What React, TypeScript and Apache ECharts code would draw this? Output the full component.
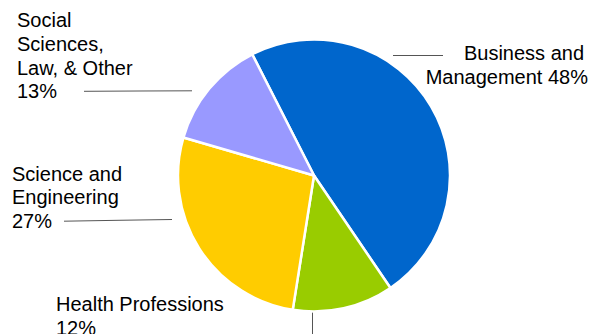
import React, { useEffect, useRef } from "react";
import * as echarts from "echarts";

const categories = [
  "Business and Management",
  "Health Professions",
  "Science and Engineering",
  "Social Sciences, Law, & Other",
];
const shares = [48, 12, 27, 13];
const labelTexts = [
  "Business and\nManagement",
  "Health Professions",
  "Science and\nEngineering",
  "Social\nSciences,\nLaw, & Other",
];
const sliceColors = ["#0066CC", "#99CC00", "#FFCC00", "#9999FF"];

const labelPlacement: any[] = [
  { x: 588, y: 65.3, align: "right", verticalAlign: "middle", labelLinePoints: [[443, 55.5], [418, 55.5], [393, 55.5]] },
  { x: 56, y: 316, align: "left", verticalAlign: "middle", labelLinePoints: [[312.5, 311], [312.5, 325], [312.5, 345]] },
  { x: 12, y: 197.3, align: "left", verticalAlign: "middle", labelLinePoints: [[172, 219.5], [118, 220.3], [64, 221.2]] },
  { x: 17, y: 55.9, align: "left", verticalAlign: "middle", labelLinePoints: [[192, 90.8], [138, 91], [84, 91.3]] },
];

export default function App() {
  const ref = useRef<HTMLDivElement>(null);
  useEffect(() => {
    if (!ref.current) return;
    const chart = echarts.init(ref.current, undefined, { renderer: "svg" });
    chart.setOption({
      animation: false,
      backgroundColor: "#ffffff",
      series: [
        {
          type: "pie",
          center: [314, 175.5],
          radius: 136,
          startAngle: 117,
          clockwise: true,
          avoidLabelOverlap: false,
          itemStyle: { borderColor: "#ffffff", borderWidth: 2.5 },
          label: {
            show: true,
            position: "outside",
            color: "#000000",
            fontFamily: "Liberation Sans, Arial, sans-serif",
            fontSize: 20,
            lineHeight: 23.7,
            formatter: (p: any) => {
              const i = p.dataIndex;
              const pct = Math.round(p.percent) + "%";
              if (i === 0) {
                const parts = labelTexts[0].split("\n");
                return "{p|" + parts[0] + "}\n" + parts[1] + " " + pct;
              }
              return labelTexts[i] + "\n" + pct;
            },
            rich: {
              p: {
                fontFamily: "Liberation Sans, Arial, sans-serif",
                fontSize: 20,
                lineHeight: 23.7,
                color: "#000000",
                padding: [0, 4, 0, 0],
              },
            },
          },
          labelLine: {
            show: true,
            lineStyle: { color: "#555555", width: 1 },
          },
          labelLayout: (params: any) => labelPlacement[params.dataIndex],
          data: categories.map((name, i) => ({
            name,
            value: shares[i],
            itemStyle: { color: sliceColors[i] },
          })),
        },
      ],
    });
    return () => chart.dispose();
  }, []);
  return (
    <div
      ref={ref}
      style={{ position: "fixed", left: 0, top: 0, width: 592, height: 334 }}
    />
  );
}
